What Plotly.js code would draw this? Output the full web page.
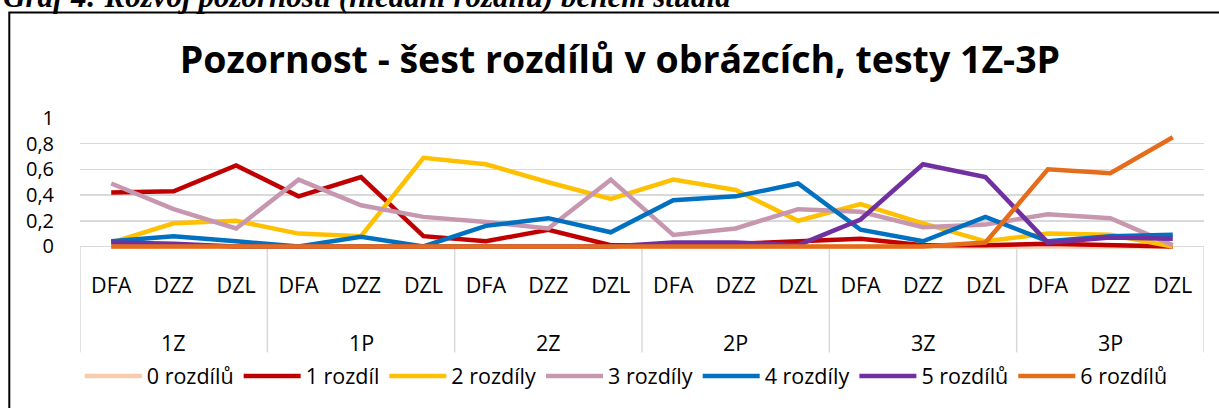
<!DOCTYPE html>
<html>
<head>
<meta charset="utf-8">
<script src="https://cdn.plot.ly/plotly-3.0.1.min.js"></script>
<style>
html,body{margin:0;padding:0;background:#fff;}
#chart{width:1219px;height:408px;}
</style>
</head>
<body>
<div id="chart"></div>
<script>
var groups = ['1Z','1P','2Z','2P','3Z','3P'];
var tests = ['DFA','DZZ','DZL'];

var seriesNames = ['0 rozdílů','1 rozdíl','2 rozdíly','3 rozdíly','4 rozdíly','5 rozdílů','6 rozdílů'];
var seriesColors = ['#F8CBAD','#C00000','#FFC000','#C697AF','#0070C0','#7030A0','#E46C1A'];

var r0 = [0,0,0,0,0,0,0,0,0,0,0,0,0,0,0,0,0,0];
var r1 = [0.42,0.43,0.63,0.39,0.54,0.08,0.04,0.13,0.01,0.01,0.02,0.04,0.06,0.01,0.01,0.02,0.01,0];
var r2 = [0.03,0.18,0.20,0.10,0.08,0.69,0.64,0.50,0.37,0.52,0.44,0.20,0.33,0.18,0.04,0.10,0.09,0];
var r3 = [0.49,0.29,0.14,0.52,0.32,0.23,0.19,0.14,0.52,0.09,0.14,0.29,0.27,0.15,0.17,0.25,0.22,0.01];
var r4 = [0.04,0.08,0.04,0,0.075,0,0.16,0.22,0.11,0.36,0.39,0.49,0.13,0.04,0.23,0.04,0.08,0.09];
var r5 = [0.03,0.02,0,0,0,0,0,0,0,0.03,0.03,0.01,0.21,0.64,0.54,0.03,0.07,0.06];
var r6 = [0,0,0,0,0,0,0,0,0,0,0,0,0,0,0.03,0.60,0.57,0.85];

var yTicks = [0,0.2,0.4,0.6,0.8,1];

var series = [r0,r1,r2,r3,r4,r5,r6];

// category positions built from the group/test arrays
var xIdx = [], xInner = [];
groups.forEach(function(g, gi){ tests.forEach(function(t, ti){ xIdx.push(gi*tests.length+ti); xInner.push(t); }); });

var traces = series.map(function(vals, i){
  return {
    type:'scatter', mode:'lines',
    x:xIdx, y:vals,
    name:seriesNames[i],
    line:{color:seriesColors[i], width:4.5},
    hoverinfo:'skip'
  };
});

var F = '"Open Sans", sans-serif';
var FS = 21.5;
var YMIN = -0.02, YMAX = 1;
var zeroPaper = (0-YMIN)/(YMAX-YMIN);
var PLOT_H = 408-118-157;
function pxToPaper(py){ return (408-157 - py)/PLOT_H; }

var shapes = [{type:'rect', xref:'paper', yref:'paper', x0:(9.3-80)/1124, x1:1.05,
           y0:-2, y1:pxToPaper(11), line:{color:'#000', width:2}, fillcolor:'rgba(0,0,0,0)', layer:'below'}];
for (var g=0; g<=groups.length; g++){
  shapes.push({type:'line', xref:'x', yref:'paper', x0:g*tests.length-0.5, x1:g*tests.length-0.5,
               y0:zeroPaper, y1:pxToPaper(356), line:{color:'#D9D9D9', width:1.5}, layer:'below'});
}

var annotations = [{text:'<b><i>Graf 4: Rozvoj pozornosti (hledání rozdílů) během studia</i></b>',
                xref:'paper', yref:'paper', x:(1-80)/1124, xanchor:'left',
                y:pxToPaper(14.5), yanchor:'bottom', showarrow:false,
                font:{family:'"Liberation Serif", "Times New Roman", serif', size:31, color:'#000'}}];
groups.forEach(function(gname, gi){
  annotations.push({text:gname, xref:'x', yref:'paper', x:gi*tests.length+(tests.length-1)/2,
                    y:pxToPaper(346), yanchor:'middle', xanchor:'center', showarrow:false,
                    font:{family:F, size:FS, color:'#000'}});
});

var layout = {
  width:1219, height:408,
  margin:{l:80, r:15, t:118, b:157, pad:0},
  paper_bgcolor:'#fff', plot_bgcolor:'#fff',
  separators:', ',
  showlegend:true,
  font:{family:F, size:FS, color:'#000'},
  title:{text:'<b>Pozornost - šest rozdílů v obrázcích, testy 1Z-3P</b>',
         font:{family:F, size:37.5, color:'#000'},
         x:(620-80)/1124, xref:'paper', xanchor:'center',
         y:1-60/408, yref:'container', yanchor:'middle'},
  xaxis:{type:'linear', range:[-0.5, xIdx.length-0.5], tickvals:xIdx, ticktext:xInner,
         showgrid:false, zeroline:false, showline:false,
         ticks:'', tickfont:{family:F, size:FS, color:'#000'}, ticklabelstandoff:21,
         fixedrange:true},
  yaxis:{range:[YMIN,YMAX], tickvals:yTicks, ticks:'', showline:false, zeroline:false,
         gridcolor:'#D9D9D9', gridwidth:1.5,
         tickfont:{family:F, size:20, color:'#000'}, ticklabelstandoff:25,
         fixedrange:true},
  legend:{orientation:'h', x:0.486, xanchor:'center', y:pxToPaper(380), yanchor:'middle',
          font:{family:F, size:FS, color:'#000'}, itemwidth:57, tracegroupgap:0,
          bgcolor:'rgba(0,0,0,0)'},
  shapes:shapes,
  annotations:annotations
};

Plotly.newPlot('chart', traces, layout, {displayModeBar:false, staticPlot:true});
</script>
</body>
</html>
